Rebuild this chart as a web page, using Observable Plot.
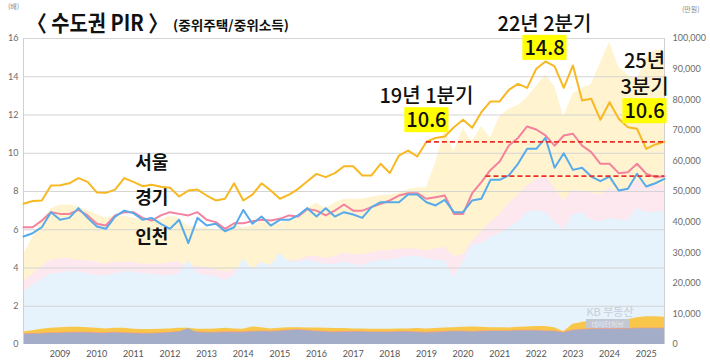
<!DOCTYPE html>
<html>
<head>
<meta charset="utf-8">
<script src="https://cdn.jsdelivr.net/npm/d3@7"></script>
<script src="https://cdn.jsdelivr.net/npm/@observablehq/plot@0.6"></script>
<style>
  html, body { margin: 0; padding: 0; background: #fff; }
  #chart { position: relative; width: 710px; height: 360px; }
</style>
</head>
<body>
<div id="chart"></div>
<script>
// ---- quarterly periods: 2008 Q1 … 2025 Q3 ----
const quarters = d3.range(71).map(i => 2008 + i / 4);

// ---- PIR (배) ----
const seoulPIR = [7.36,7.5,7.53,8.31, 8.33,8.43,8.7,8.5, 7.95,7.93,8.1,8.7, 8.5,8.28,8.35,8.25,
  8.2,7.74,8.05,8.1, 7.79,7.53,7.62,8.43, 7.53,7.84,8.43,8.05, 7.62,7.84,8.14,8.54,
  8.92,8.75,8.96,9.32, 9.32,8.84,8.84,9.45, 8.96,9.88,10.14,9.83, 10.6,10.8,10.88,11.36,
  11.75,11.33,12.15,12.71, 12.71,13.31,13.63,13.42, 14.42,14.8,14.54,13.42, 14.59,12.76,12.85,11.75,
  12.67,11.8,11.36,11.28, 10.23,10.46,10.6];
const gyeonggiPIR = [6.13,6.13,6.48,6.92, 6.83,6.83,7.04,6.75, 6.31,6.22,6.75,6.92, 6.92,6.62,6.48,6.75,
  6.92,6.83,6.75,6.92, 6.52,6.4,6.05,6.34, 6.34,6.45,6.52,6.48, 6.57,6.75,6.69,7.09,
  7.0,6.75,7.0,7.32, 7.0,7.0,7.18,7.36, 7.53,7.79,7.91,7.91, 7.62,7.7,7.79,6.83,
  6.83,7.91,8.49,9.13, 9.57,10.4,10.8,11.4, 11.24,10.93,10.4,10.93, 11.02,10.4,10.06,9.45,
  9.45,8.96,9.01,9.45, 8.93,8.75,8.8];
const incheonPIR = [5.65,5.82,6.13,6.92, 6.52,6.62,7.13,6.62, 6.17,6.05,6.69,7.0, 6.87,6.52,6.62,6.31,
  6.05,6.52,5.3,6.62, 6.22,6.31,5.92,6.13, 7.04,6.31,6.69,6.22, 6.52,6.52,6.75,7.13,
  6.69,7.13,6.69,6.92, 6.8,6.62,7.18,7.44, 7.44,7.44,7.84,7.84, 7.44,7.27,7.56,6.92,
  6.92,7.53,7.62,8.61, 8.61,8.84,9.45,10.23, 10.23,10.8,9.24,10.0, 9.13,9.24,8.78,8.54,
  8.78,8.05,8.14,8.93, 8.26,8.43,8.66];

// ---- median house price (만원) ----
const seoulPrice = [29400,35000,40000,44400, 45600,45600,45000,43750, 42500,41250,41900,41900, 41250,40600,41250,40600,
  41900,41250,38750,38100, 38100,37500,37500,39400, 38100,38750,40000,39400, 39400,40600,41250,44400,
  46250,44400,46250,47500, 47500,47500,48100,48750, 48750,49400,50600,51250, 51250,59400,70000,63100,
  70600,66250,71250,67500, 74400,76900,78100,80600, 84400,88100,84400,74400, 81900,83750,85000,91900,
  98750,90600,88100,86250, 93750,96250,95600];
const gyeonggiPrice = [20400,23100,25600,27500, 28100,28100,27500,27500, 26900,26250,26900,26900, 26900,26250,26250,26250,
  26900,26900,25600,25600, 25000,24400,23750,24400, 25000,25000,25600,26250, 26900,27500,27500,28750,
  28750,28100,28750,30000, 29400,29400,30000,30600, 30600,31250,31250,31250, 30600,31250,31900,28750,
  29400,33750,36900,40000, 42500,46250,48750,51900, 53750,55000,51250,46900, 50600,50000,49400,48750,
  51250,50000,50600,53750, 51900,51900,52500];
const incheonPrice = [17100,19400,21250,23100, 23400,23750,23750,23100, 22500,22500,23100,23750, 23750,23100,23100,22500,
  22500,23100,27500,23100, 22500,22200,20900,22500, 28100,24400,26900,25600, 30000,26900,26900,27500,
  26900,26250,26250,26900, 26250,25600,26900,27500, 27500,28100,28750,28750, 28100,27500,27500,21900,
  26900,32500,33100,35000, 36250,38100,40000,43100, 43750,43100,40000,37500, 42500,43100,40600,40000,
  41250,40600,40600,44400, 43100,43100,43750];

// ---- median household income (만원) ----
const seoulIncome = [4060,4500,5000,5300, 5500,5600,5600,5500, 5300,5100,5300,5300, 5000,4900,4900,5000,
  5100,5300,5300,5000, 5000,5100,5300,5100, 5000,5750,5500,5100, 5300,5500,5500,5400,
  5400,5300,5250,5200, 5100,5100,5000,5000, 5000,5100,5100,5250, 5100,5250,5400,5500,
  5600,5750,5600,5500, 5500,5400,5600,5750, 5900,5900,5500,4200, 6600,7200,7800,8100,
  7800,7600,8100,8750, 9050,9050,8900];
const gyeonggiIncome = [3500,3560,3690,3810, 3880,4000,4000,4000, 3880,3880,4000,3880, 3750,3690,3690,3810,
  4000,4250,4250,4130, 4000,4000,4130,4130, 4130,4310,4380,4310, 4500,4750,4880,4630,
  4380,4250,4130,4250, 4250,4250,4190,4190, 4190,4250,4250,4130, 4000,4130,4250,4380,
  4380,4250,4380,4500, 4500,4500,4630,4630, 4630,4500,4380,4000, 4750,5000,5130,5250,
  5250,5250,5250,5380, 5380,5380,5380];
const incheonIncome = [3250,3310,3440,3560, 3630,3750,3750,3750, 3630,3630,3750,3630, 3500,3440,3440,3560,
  3750,4060,5130,3880, 3750,3750,3880,3880, 3880,4060,4130,4060, 4250,4500,4690,4380,
  4130,4000,3880,4000, 4000,4000,3940,3940, 3940,4000,4000,3880, 3750,3880,4000,4130,
  4130,4000,4130,4250, 4250,4250,4380,4380, 4380,4250,4130,3750, 4500,4750,4880,5000,
  5000,5000,5000,5130, 5130,5130,5130];

// ---- axis ticks ----
const yearTicks = [2009,2010,2011,2012,2013,2014,2015,2016,2017,2018,2019,2020,2021,2022,2023,2024,2025];
const leftTicks = [0,2,4,6,8,10,12,14,16];
const rightTicks = [0,10000,20000,30000,40000,50000,60000,70000,80000,90000,100000];

// ---- reference levels (red dashed) ----
const refLines = [
  {from: 2019.0, to: 2025.5, value: 10.6},
  {from: 2020.625, to: 2025.5, value: 8.8}
];

// ---- series names & callouts ----
const seriesNames = ["서울", "경기", "인천"];
const calloutPeriods = ["19년 1분기", "22년 2분기", "25년\n3분기"];
const calloutTimes = [2019.0, 2022.25, 2025.5];
const calloutValues = [10.6, 14.8, 10.6];

// right axis (만원) shares the plot: 100,000 만원 ↔ 16 배
const RATIO = 100000 / 16;

const rows = quarters.map((t, i) => ({
  t,
  seoul: seoulPIR[i], gyeonggi: gyeonggiPIR[i], incheon: incheonPIR[i],
  sP: seoulPrice[i] / RATIO, gP: gyeonggiPrice[i] / RATIO, iP: incheonPrice[i] / RATIO,
  sI: seoulIncome[i] / RATIO, gI: gyeonggiIncome[i] / RATIO, iI: incheonIncome[i] / RATIO
}));

// label placement (layout only)
const nameLabels = [
  {name: seriesNames[0], t: 2011.5, v: 9.46},
  {name: seriesNames[1], t: 2011.5, v: 7.63},
  {name: seriesNames[2], t: 2011.5, v: 5.6}
];
const calloutLayout = [
  {headDx: 0, headDy: -47, valDx: 0, valDy: -21},
  {headDx: -1, headDy: -39, valDx: -1, valDy: -13},
  {headDx: -20, headDy: -69, valDx: -20, valDy: -30}
];

const KFONT = "'Noto Sans CJK KR', 'Noto Sans', sans-serif";

const calloutMarks = calloutPeriods.flatMap((p, i) => {
  const d = [{t: calloutTimes[i], v: calloutValues[i], head: p, val: calloutValues[i].toFixed(1)}];
  const L = calloutLayout[i];
  return [
    Plot.text(d, {x: "t", y: "v", text: "head", dx: L.headDx, dy: L.headDy, lineHeight: 1.3,
      fontSize: 20, fontWeight: 500, fill: "#111", fontFamily: KFONT}),
    Plot.text(d, {x: "t", y: "v", text: "val", dx: L.valDx, dy: L.valDy,
      fontSize: 20, fontWeight: 500, fill: "#111", fontFamily: KFONT})
  ];
});

const plot = Plot.plot({
  width: 710,
  height: 360,
  marginLeft: 23,
  marginRight: 46,
  marginTop: 38,
  marginBottom: 16,
  style: {fontFamily: "Lato, 'Noto Sans', sans-serif", fontSize: "9px", color: "#6b6b6b", background: "#fff"},
  x: {domain: [2008, 2025.5]},
  y: {domain: [0, 16]},
  marks: [
    // price areas (right axis)
    Plot.areaY(rows, {x: "t", y: "sP", fill: "#fff4cf"}),
    Plot.areaY(rows, {x: "t", y: "gP", fill: "#fde8ef"}),
    Plot.areaY(rows, {x: "t", y: "iP", fill: "#e6f2fc"}),
    // income areas
    Plot.areaY(rows, {x: "t", y: "sI", fill: "#f8c648"}),
    Plot.areaY(rows, {x: "t", y: "gI", fill: "#f2a184"}),
    Plot.areaY(rows, {x: "t", y: "iI", fill: "#a4adc8"}),
    // grid
    Plot.gridY({ticks: leftTicks.slice(1), stroke: "#d4d4d4", strokeOpacity: 1}),
    Plot.ruleX([2008, 2025.5], {stroke: "#d0d0d0", y1: 0, y2: 16}),
    // PIR lines
    Plot.lineY(rows, {x: "t", y: "seoul", stroke: "#f8b821", strokeWidth: 2}),
    Plot.lineY(rows, {x: "t", y: "gyeonggi", stroke: "#f3829e", strokeWidth: 2}),
    Plot.lineY(rows, {x: "t", y: "incheon", stroke: "#57abea", strokeWidth: 2}),
    // reference levels
    Plot.ruleY(refLines, {y: "value", x1: "from", x2: "to", stroke: "#e8302a", strokeWidth: 1.7, strokeDasharray: "5,3"}),
    // series names
    Plot.text(nameLabels, {x: "t", y: "v", text: "name", fontSize: 18, fontWeight: 700, fill: "#111", fontFamily: KFONT}),
    ...calloutMarks,
    // axes
    Plot.axisY({anchor: "left", ticks: leftTicks, tickSize: 0, tickPadding: 5, label: null}),
    Plot.axisY({anchor: "right", ticks: rightTicks.map(v => v / RATIO), tickFormat: d => d3.format(",")(Math.round(d * RATIO)), tickSize: 0, tickPadding: 8, label: null}),
    Plot.axisX({ticks: yearTicks, tickFormat: d => String(d), tickSize: 0, tickPadding: 6, label: null, fill: "#555"})
  ]
});

document.getElementById("chart").appendChild(plot);
const svg = d3.select(plot);

// yellow highlight boxes behind callout values
svg.selectAll("text").filter(function() { return /^\d+\.\d$/.test(this.textContent); }).each(function() {
  const b = this.getBBox();
  const tr = this.getAttribute("transform") || "";
  d3.select(this.parentNode).insert("rect", () => this)
    .attr("x", b.x - 2).attr("y", b.y + 3).attr("width", b.width + 4).attr("height", b.height - 4)
    .attr("transform", tr).attr("fill", "#ffff00");
});

// title & unit labels
const title = svg.append("g").attr("font-family", KFONT).attr("fill", "#111").attr("text-anchor", "start");
title.append("text").attr("x", 27).attr("y", 31).attr("font-size", 22).attr("font-weight", 700)
  .attr("textLength", 141).attr("lengthAdjust", "spacingAndGlyphs")
  .text("〈 수도권 PIR 〉");
title.append("text").attr("x", 173).attr("y", 30).attr("font-size", 13).attr("font-weight", 700)
  .attr("textLength", 116).attr("lengthAdjust", "spacingAndGlyphs")
  .text("(중위주택/중위소득)");
const units = svg.append("g").attr("font-family", KFONT).attr("fill", "#888").attr("font-size", 7).attr("text-anchor", "start");
units.append("text").attr("x", 8).attr("y", 9).text("(배)");
units.append("text").attr("x", 682).attr("y", 12).text("(만원)");

// watermark
const wm = svg.append("g").attr("font-family", KFONT).attr("text-anchor", "middle");
wm.append("text").attr("x", 610).attr("y", 316).attr("font-size", 11).attr("fill", "#c9cdd6").text("KB 부동산");
wm.append("rect").attr("x", 586).attr("y", 319).attr("width", 43).attr("height", 9).attr("fill", "#c3c8d3");
wm.append("text").attr("x", 607.5).attr("y", 326.5).attr("font-size", 7).attr("fill", "#e8ebf0").text("데이터허브");
</script>
</body>
</html>
